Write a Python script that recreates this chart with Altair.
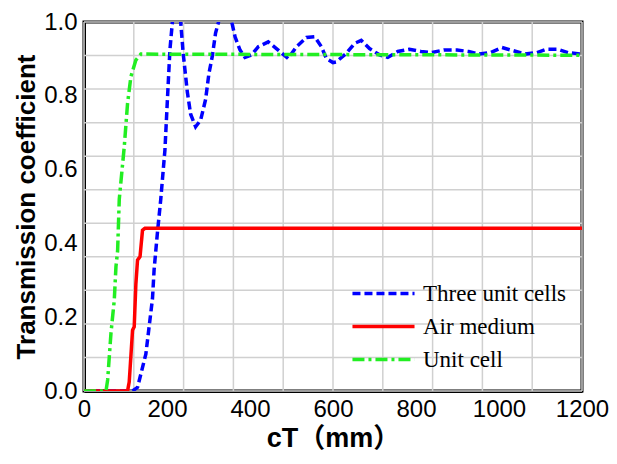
import altair as alt
import pandas as pd

series_names = ["Three unit cells", "Air medium", "Unit cell"]
series_colors = ["#0000ff", "#ff0000", "#22ee22"]
series_dash = [[8, 4], [1, 0], [12, 4, 3, 4]]

three_x = [0, 117, 129, 149, 165, 169, 177, 185, 195, 201, 207, 213, 222, 233, 239, 249, 257, 269,
           281, 293, 301, 309, 317, 329, 341, 354, 364, 376, 388, 404, 420, 444, 468, 492, 512, 536,
           556, 572, 584, 600, 608, 632, 652, 668, 688, 712, 732, 756, 784, 812, 836, 867, 899, 927,
           951, 979, 1007, 1035, 1063, 1091, 1114, 1142, 1166, 1200]
three_y = [0, 0, 0.01, 0.10, 0.25, 0.33, 0.43, 0.52, 0.653, 0.79, 0.924, 1.0, 1.05, 1.0, 0.915, 0.81,
           0.75, 0.716, 0.734, 0.79, 0.86, 0.906, 0.97, 1.02, 1.04, 1.01, 0.96, 0.924, 0.904, 0.911,
           0.933, 0.946, 0.924, 0.901, 0.933, 0.958, 0.96, 0.933, 0.901, 0.89, 0.892, 0.915, 0.942,
           0.95, 0.928, 0.911, 0.904, 0.92, 0.926, 0.92, 0.917, 0.924, 0.924, 0.92, 0.913, 0.917,
           0.931, 0.922, 0.913, 0.917, 0.926, 0.926, 0.917, 0.913]

air_x = [0, 105, 109, 117, 121, 125, 129, 135, 141, 147, 1200]
air_y = [0, 0, 0.025, 0.165, 0.174, 0.29, 0.355, 0.364, 0.436, 0.441, 0.441]

unit_x = [0, 53, 57, 65, 73, 77, 81, 85, 97, 105, 113, 125, 137, 1200]
unit_y = [0, 0, 0.03, 0.157, 0.247, 0.337, 0.38, 0.52, 0.662, 0.78, 0.852, 0.897, 0.913, 0.91]

x_ticks = [0, 200, 400, 600, 800, 1000, 1200]
y_ticks = [0.0, 0.2, 0.4, 0.6, 0.8, 1.0]
x_grid = [0, 120, 240, 360, 480, 600, 720, 840, 960, 1080, 1200]
y_grid = [0, 1/11, 2/11, 3/11, 4/11, 5/11, 6/11, 7/11, 8/11, 9/11, 10/11, 1]

rows = []
for name, xs, ys in [(series_names[0], three_x, three_y),
                     (series_names[1], air_x, air_y),
                     (series_names[2], unit_x, unit_y)]:
    for i, (x, y) in enumerate(zip(xs, ys)):
        rows.append({"series": name, "cT": x, "T": y, "order": i})
df = pd.DataFrame(rows)

x_scale = alt.Scale(domain=[0, 1200], nice=False, zero=False)
y_scale = alt.Scale(domain=[0, 1], nice=False)

x_axis = alt.Axis(values=x_ticks, title="cT（mm）", grid=False, ticks=False, labelPadding=6,
                  titlePadding=4, format="d", labelFlush=False, labelOverlap=False)
y_axis = alt.Axis(values=y_ticks, title="Transmission coefficient", grid=False, ticks=False,
                  labelPadding=7, titlePadding=4, titleFontSize=26, format=".1f",
                  labelFlush=False, labelOverlap=False)

grid_color = "#d0d0d0"
vgrid = alt.Chart(pd.DataFrame({"cT": x_grid})).mark_rule(color=grid_color, strokeWidth=1.5).encode(
    x=alt.X("cT:Q", scale=x_scale, axis=x_axis)
)
hgrid = alt.Chart(pd.DataFrame({"T": y_grid})).mark_rule(color=grid_color, strokeWidth=1.5).encode(
    y=alt.Y("T:Q", scale=y_scale, axis=y_axis)
)

legend = alt.Legend(
    title=None, orient="none", legendX=287, legendY=259, padding=0,
    symbolType="M-3,0H3", symbolSize=428, symbolStrokeWidth=3.5,
    labelFont="Liberation Serif", labelFontSize=23, labelColor="black",
    labelOffset=27, rowPadding=8,
)

lines = alt.Chart(df).mark_line(strokeWidth=3.5, clip=True).encode(
    x=alt.X("cT:Q", scale=x_scale, axis=x_axis),
    y=alt.Y("T:Q", scale=y_scale, axis=y_axis),
    color=alt.Color("series:N", scale=alt.Scale(domain=series_names, range=series_colors), legend=legend),
    strokeDash=alt.StrokeDash("series:N", scale=alt.Scale(domain=series_names, range=series_dash), legend=legend),
    order="order:Q",
)

chart = alt.layer(vgrid, hgrid, lines).properties(
    width=498, height=369,
    autosize=alt.AutoSizeParams(type="none"),
    padding={"left": 76, "top": 14, "right": 27, "bottom": 65},
).configure_view(
    stroke="black", strokeWidth=3
).configure_axis(
    domainColor="black", domainWidth=3,
    labelFont="Liberation Sans", labelFontSize=24, labelColor="black",
    titleFont="Liberation Sans, Noto Sans CJK JP", titleFontSize=27, titleFontWeight="bold",
    titleColor="black",
)

chart.save("out.html", embed_options={"renderer": "svg", "actions": False})
